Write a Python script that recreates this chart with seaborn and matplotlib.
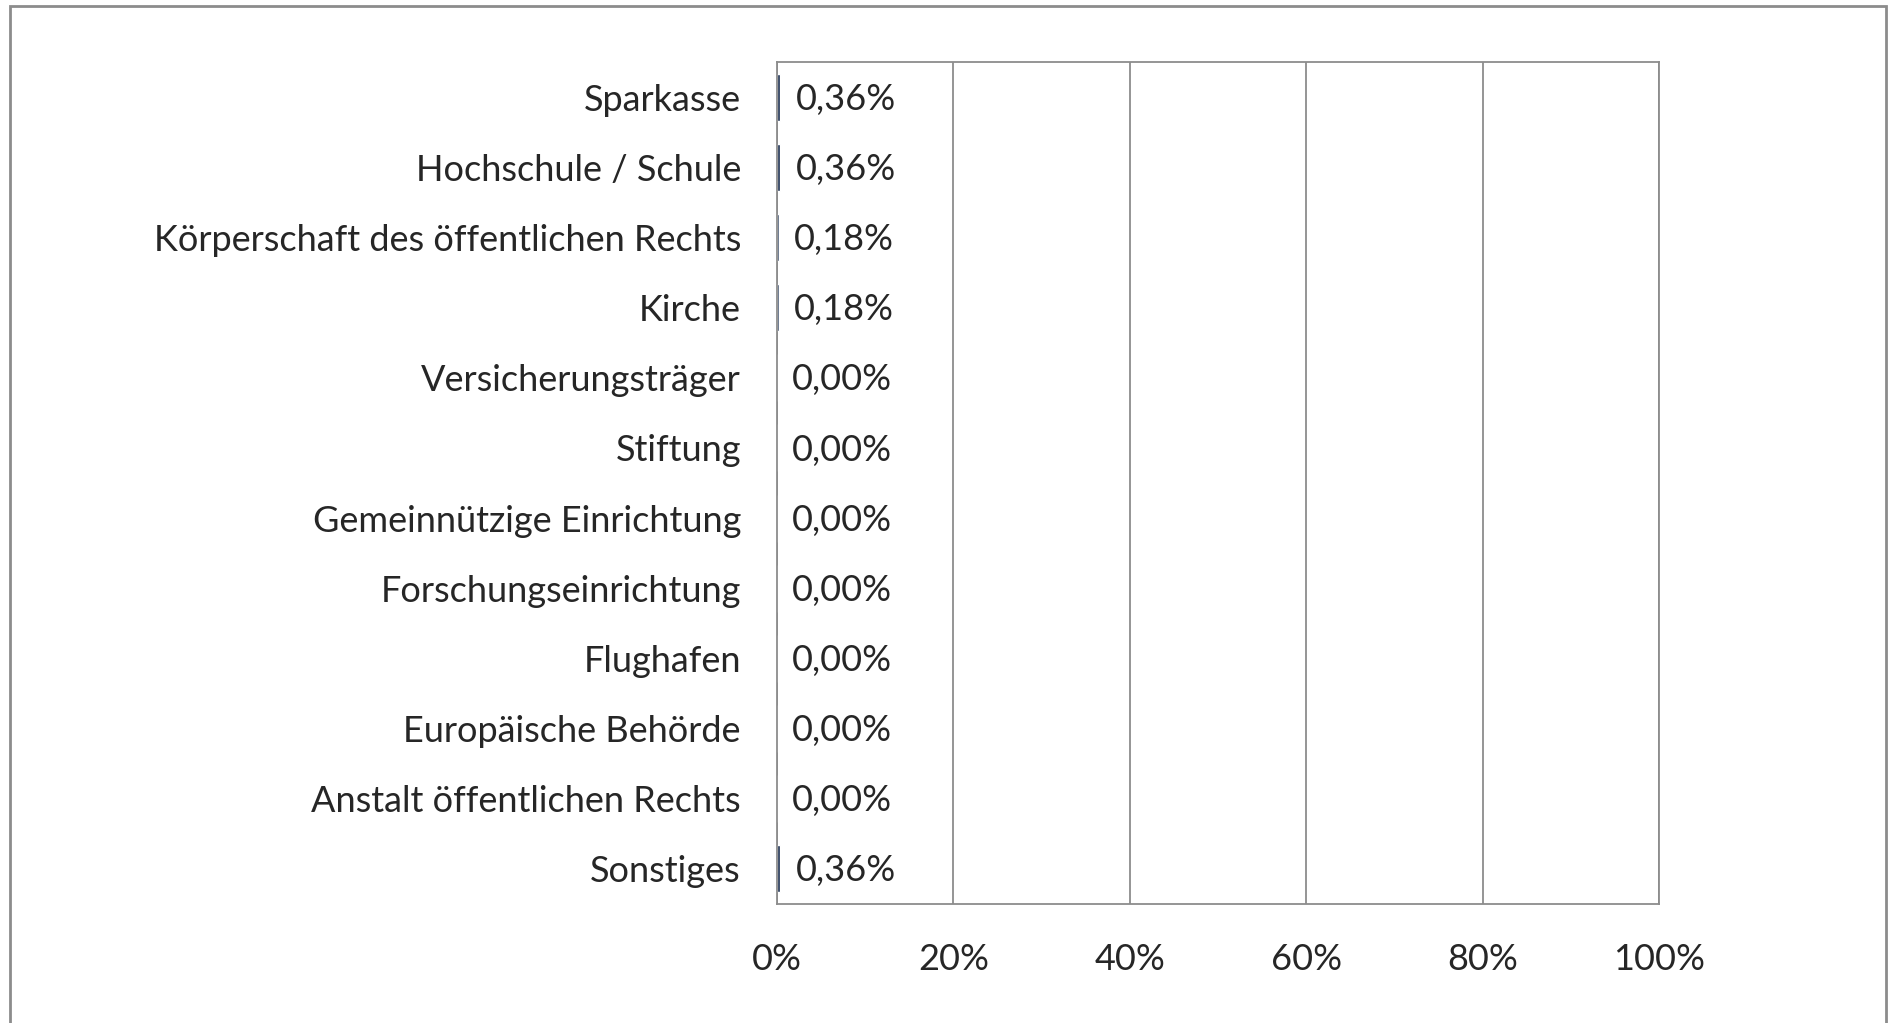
import matplotlib
matplotlib.use("Agg")
import matplotlib.pyplot as plt
from matplotlib.patches import Rectangle
import seaborn as sns
import pandas as pd
import numpy as np

categories = [
    "Sparkasse",
    "Hochschule / Schule",
    "Körperschaft des öffentlichen Rechts",
    "Kirche",
    "Versicherungsträger",
    "Stiftung",
    "Gemeinnützige Einrichtung",
    "Forschungseinrichtung",
    "Flughafen",
    "Europäische Behörde",
    "Anstalt öffentlichen Rechts",
    "Sonstiges",
]
values = [0.36, 0.36, 0.18, 0.18, 0.00, 0.00, 0.00, 0.00, 0.00, 0.00, 0.00, 0.36]
value_labels = ["0,36%", "0,36%", "0,18%", "0,18%", "0,00%", "0,00%", "0,00%",
                "0,00%", "0,00%", "0,00%", "0,00%", "0,36%"]
x_ticks = [0, 20, 40, 60, 80, 100]
x_tick_labels = ["0%", "20%", "40%", "60%", "80%", "100%"]

df = pd.DataFrame({"cat": categories, "val": values})

sns.set_theme(style="white")
plt.rcParams["font.family"] = ["Lato", "DejaVu Sans"]

W, H = 1888, 1023
fig = plt.figure(figsize=(W / 100, H / 100), dpi=100)
ax = fig.add_axes([777 / W, 1 - 904 / H, (1659 - 777) / W, (904 - 62) / H])

sns.barplot(data=df, x="val", y="cat", order=categories, color="#172B4D",
            width=0.67, ax=ax, saturation=1)

ax.set_xlim(0, 100)
ax.set_ylim(len(categories) - 0.5, -0.5)
ax.set_xlabel("")
ax.set_ylabel("")

grid_c = "#8c8c8c"
ax.set_xticks(x_ticks)
ax.set_xticklabels(x_tick_labels)
ax.xaxis.grid(True, color=grid_c, linewidth=1.3)
ax.yaxis.grid(False)
ax.set_axisbelow(True)
for s in ax.spines.values():
    s.set_visible(True)
    s.set_color(grid_c)
    s.set_linewidth(1.3)

FS = 26
TC = "#262626"
ax.set_yticks(range(len(categories)))
ax.set_yticklabels(categories)
ax.set_yticks(np.arange(-0.5, len(categories), 1.0), minor=True)
ax.tick_params(axis="y", which="major", length=0, pad=26)
ax.tick_params(axis="y", which="minor", length=9, width=1.3, color=grid_c)
ax.tick_params(axis="x", which="major", length=0, pad=28)

for lab in ax.get_yticklabels() + ax.get_xticklabels():
    lab.set_fontsize(FS)
    lab.set_fontweight("normal")
    lab.set_color(TC)

for i, (v, t) in enumerate(zip(values, value_labels)):
    ax.annotate(t, xy=(v, i), xytext=(11, -1.5), textcoords="offset points",
                ha="left", va="center", fontsize=FS, fontweight="normal",
                color=TC)

fig.patches.append(Rectangle((10 / W, -0.1), (1886 - 10) / W, 1.1 - 6 / H,
                             transform=fig.transFigure, fill=False,
                             edgecolor="#8c8c8c", linewidth=2))

fig.savefig("out.png", dpi=100)
